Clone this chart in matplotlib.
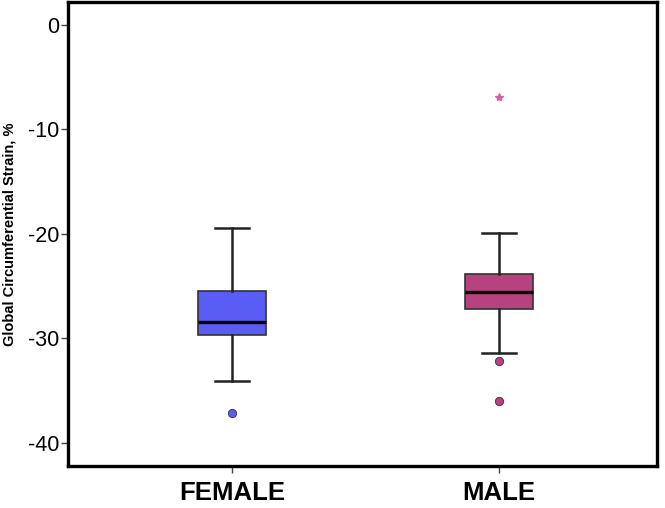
import matplotlib
matplotlib.use("Agg")
import matplotlib.pyplot as plt

plt.rcParams['font.family'] = ['Liberation Sans', 'DejaVu Sans']

# box summary (%)
groups = ['FEMALE', 'MALE']
whislo = [-34.1, -31.4]
q1 = [-29.7, -27.2]
med = [-28.4, -25.6]
q3 = [-25.5, -23.8]
whishi = [-19.4, -19.9]
outliers = [[-37.1], [-32.2, -36.0]]
extremes = [[], [-6.9]]
colors = ['#5a5cf6', '#b8417f']
star_color = '#d35fae'

stats = []
for i in range(len(groups)):
    stats.append(dict(label=groups[i], whislo=whislo[i], q1=q1[i], med=med[i],
                      q3=q3[i], whishi=whishi[i], fliers=[]))

fig = plt.figure(figsize=(6.65, 5.08), dpi=100)
ax = fig.add_axes([0.102, 0.083, 0.886, 0.913])

pos = [1, 2]
bp = ax.bxp(stats, positions=pos, widths=0.255, patch_artist=True,
            showfliers=False,
            medianprops=dict(color='black', linewidth=2.4),
            whiskerprops=dict(color='#222222', linewidth=1.8),
            capprops=dict(color='#222222', linewidth=1.8),
            boxprops=dict(edgecolor='#333333', linewidth=1.2),
            capwidths=0.125)
for patch, c in zip(bp['boxes'], colors):
    patch.set_facecolor(c)

for p, outs, c in zip(pos, outliers, colors):
    if outs:
        ax.plot([p] * len(outs), outs, 'o', color=c, markeredgecolor='#333333',
                markeredgewidth=0.6, markersize=6)
for p, ex in zip(pos, extremes):
    if ex:
        ax.plot([p] * len(ex), ex, '*', color=star_color, markersize=6)

ax.set_xlim(0.386, 2.592)
ax.set_ylim(-42.2, 2.2)
ax.set_yticks([0, -10, -20, -30, -40])
ax.set_yticklabels(['0', '-10', '-20', '-30', '-40'], fontsize=15.5)
ax.set_xticks(pos)
ax.set_xticklabels(groups, fontsize=18.5, fontweight='bold')
ax.set_ylabel('Global Circumferential Strain, %', fontsize=10.5, fontweight='bold')
ax.yaxis.set_label_coords(-0.087, 0.5)
ax.tick_params(axis='both', direction='out', length=5, width=1, color='#444444')
ax.tick_params(axis='y', pad=1)
ax.tick_params(axis='x', pad=6)
for s in ax.spines.values():
    s.set_linewidth(2.4)

fig.savefig('out.png', dpi=100)
